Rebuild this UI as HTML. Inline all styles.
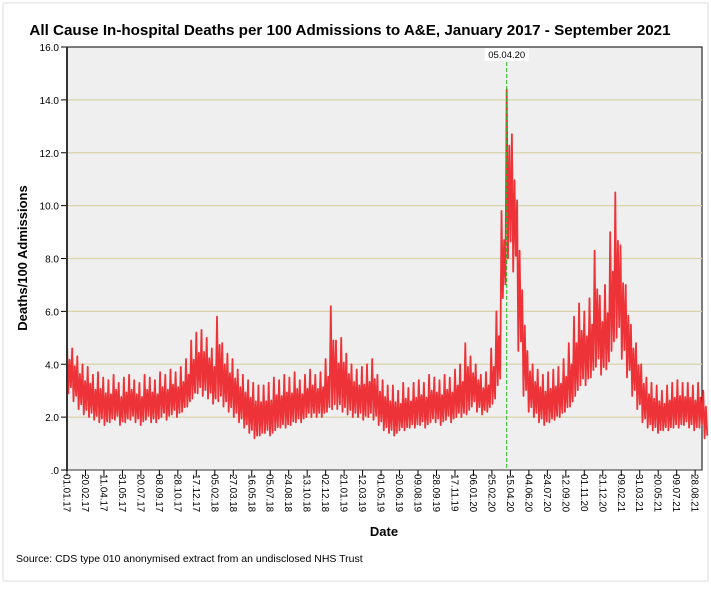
<!DOCTYPE html>
<html><head><meta charset="utf-8"><style>
body{margin:0;background:#fff;}
svg text{font-family:"Liberation Sans",Arial,sans-serif;}
</style></head><body>
<svg id="chart" width="711" height="584" xmlns="http://www.w3.org/2000/svg">
<rect x="3" y="3" width="705" height="578" fill="#fff" stroke="#ddd"/>
<text x="350" y="35" text-anchor="middle" font-size="15.2" font-weight="bold">All Cause In-hospital Deaths per 100 Admissions to A&amp;E, January 2017 - September 2021</text>
<rect x="67" y="47" width="635" height="423" fill="#efefef" stroke="#000" stroke-width="1"/>
<g id="grid"></g>
<g id="series"></g>
<g id="axes"></g>
<text transform="translate(27,258) rotate(-90)" text-anchor="middle" font-size="13" font-weight="bold">Deaths/100 Admissions</text>
<text x="384" y="536" text-anchor="middle" font-size="13" font-weight="bold">Date</text>
<text x="16" y="562" font-size="10.5">Source: CDS type 010 anonymised extract from an undisclosed NHS Trust</text>
</svg>
<script>
const yTicks=[0,2,4,6,8,10,12,14,16];
const yTickLabels=[".0","2.0","4.0","6.0","8.0","10.0","12.0","14.0","16.0"];
const xTickDays=[0,50,100,150,200,250,300,350,400,450,500,550,600,650,700,750,800,850,900,950,1000,1050,1100,1150,1200,1250,1300,1350,1400,1450,1500,1550,1600,1650,1700];
const xTickLabels=["01.01.17","20.02.17","11.04.17","31.05.17","20.07.17","08.09.17","28.10.17","17.12.17","05.02.18","27.03.18","16.05.18","05.07.18","24.08.18","13.10.18","02.12.18","21.01.19","12.03.19","01.05.19","20.06.19","09.08.19","28.09.19","17.11.19","06.01.20","25.02.20","15.04.20","04.06.20","24.07.20","12.09.20","01.11.20","21.12.20","09.02.21","31.03.21","20.05.21","09.07.21","28.08.21"];
const markerDay=1190;
const markerLabel="05.04.20";
// bi-weekly envelope (period i starts at day 14*i)
const highs=[4.8,4.6,4.3,4.0,3.9,3.6,3.7,3.5,3.4,3.6,3.3,3.5,3.6,3.4,3.3,3.6,3.5,3.4,3.7,3.6,3.8,3.7,3.9,4.2,4.9,5.2,
5.3,5.0,4.6,5.8,4.8,4.4,4.2,3.8,3.6,3.4,3.3,3.2,3.2,3.3,3.5,3.4,3.6,3.5,3.7,3.4,3.6,3.8,3.6,3.7,4.2,6.2,
4.9,5.0,4.4,4.0,3.8,3.9,4.0,4.2,3.6,3.4,3.2,3.2,3.0,3.3,3.1,3.3,3.4,3.3,3.6,3.5,3.4,3.6,3.5,3.8,4.0,4.8,
4.3,4.0,3.6,3.7,4.6,6.0,9.8,14.4,12.7,10.2,6.8,4.5,4.0,3.8,3.6,3.7,3.8,3.9,4.2,4.8,5.8,6.3,6.0,6.5,8.3,6.6,
7.0,9.0,10.5,8.5,7.0,5.5,4.8,4.0,3.5,3.3,3.2,3.0,3.2,3.3,3.4,3.3,3.3,3.2,3.3,3.0];
const lows=[2.9,2.6,2.3,2.1,2.0,1.9,1.8,1.7,1.8,1.9,1.7,1.8,1.9,1.8,1.7,1.9,1.8,1.8,2.0,1.9,2.1,2.0,2.2,2.4,2.7,2.9,
2.8,2.7,2.5,2.6,2.4,2.2,2.0,1.8,1.6,1.4,1.2,1.3,1.4,1.3,1.5,1.6,1.6,1.7,1.8,1.8,2.0,2.0,2.0,2.0,2.2,2.3,
2.3,2.2,2.1,2.0,2.0,1.9,2.0,1.9,1.7,1.5,1.4,1.3,1.5,1.5,1.6,1.6,1.7,1.6,1.8,1.8,1.7,1.9,1.8,2.0,2.0,2.1,
2.4,2.2,2.1,2.2,2.5,3.2,6.5,8.0,7.5,4.5,2.8,2.2,2.0,1.8,1.7,1.8,1.9,2.0,2.2,2.4,2.8,3.2,3.2,3.5,3.9,3.6,
3.8,4.5,5.0,4.2,3.5,2.8,2.3,1.8,1.6,1.5,1.4,1.5,1.5,1.6,1.6,1.7,1.6,1.5,1.6,1.2];

const NS="http://www.w3.org/2000/svg";
const L=67,R=702,T=47,B=470,YMAX=16,PXD=0.3695;
const x=d=>L+d*PXD;
const y=v=>B-(v/YMAX)*(B-T);
function mk(tag,attrs,parent){const e=document.createElementNS(NS,tag);for(const k in attrs)e.setAttribute(k,attrs[k]);parent.appendChild(e);return e;}
const grid=document.getElementById('grid'),axes=document.getElementById('axes'),series=document.getElementById('series');
yTicks.forEach((v,i)=>{
  if(v>0&&v<YMAX){const g=mk('line',{x1:L,x2:R,y1:y(v),y2:y(v),stroke:'#d9d3a9','stroke-width':1.3},grid);
  
  }
  const t=mk('line',{x1:L-6,x2:L,y1:y(v),y2:y(v),stroke:'#000'},axes);
  
  
  const tx=mk('text',{x:L-8,y:y(v)+4,'text-anchor':'end','font-size':10},axes);tx.textContent=yTickLabels[i];
  
  
});
const ax=mk('line',{x1:L,x2:L,y1:T,y2:B+1,stroke:'#333','stroke-width':2},axes);


const bx=mk('line',{x1:L,x2:R,y1:B,y2:B,stroke:'#333','stroke-width':1},axes);


xTickDays.forEach((d,i)=>{
  const t=mk('line',{x1:x(d),x2:x(d),y1:B,y2:B+6,stroke:'#000'},axes);
  
  
  const tx=mk('text',{transform:`translate(${x(d)-3.5},${B+4}) rotate(90)`,'font-size':9.8},axes);tx.textContent=xTickLabels[i];
  
  
});
let pts=[];
highs.forEach((h,i)=>{const d0=i*14;const lo=lows[i];
  pts.push([x(d0),y(h)],[x(d0+3.5),y(lo)],[x(d0+7),y((h*2+lo)/3)],[x(d0+10.5),y(lo*1.08)]);});
const pl=mk('polyline',{points:pts.map(p=>p[0].toFixed(1)+','+p[1].toFixed(1)).join(' '),fill:'none',stroke:'#ee3338','stroke-width':1.8,'stroke-linejoin':'round'},series);


const ml=mk('line',{x1:x(markerDay),x2:x(markerDay),y1:62,y2:B,stroke:'#22bb22','stroke-width':1,'stroke-dasharray':'4,2'},series);


const mr=mk('rect',{x:x(markerDay)-22,y:48,width:44,height:13,fill:'#fff'},series);


const mt=mk('text',{x:x(markerDay),y:58,'text-anchor':'middle','font-size':9.5},series);mt.textContent=markerLabel;


</script>
</body></html>
